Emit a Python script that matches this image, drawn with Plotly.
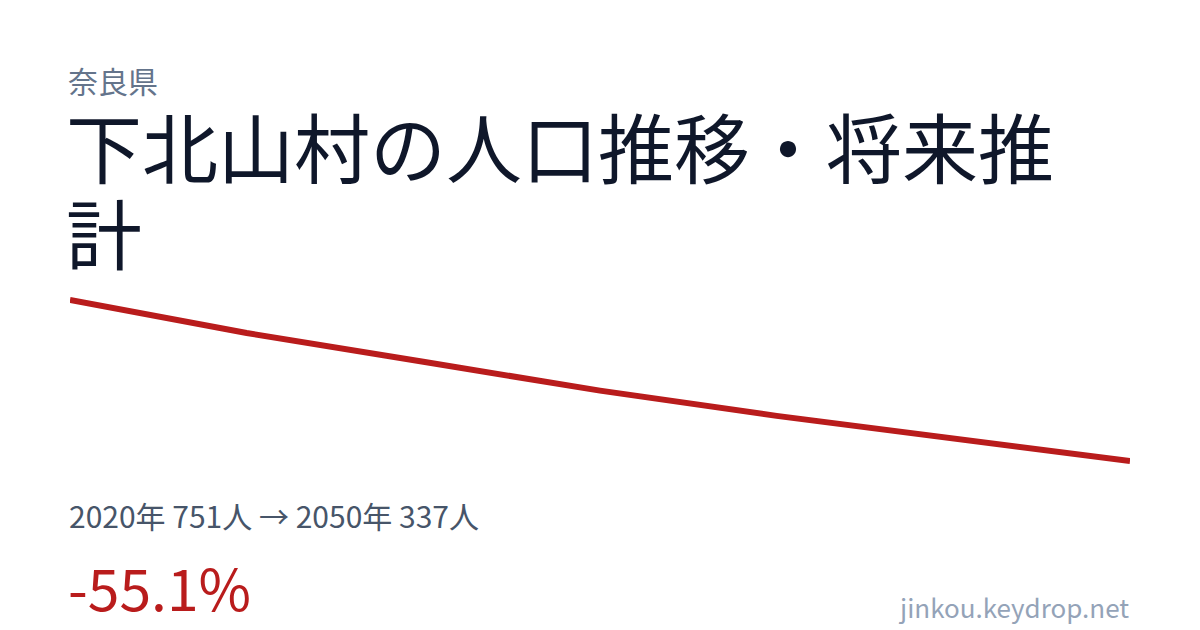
import plotly.graph_objects as go

years = [2020, 2025, 2030, 2035, 2040, 2045, 2050]
population = [751, 666, 592, 518, 453, 396, 337]

prefecture = "奈良県"
title_line1 = "下北山村の人口推移・将来推"
title_line2 = "計"
summary = "2020年 751人 → 2050年 337人"
change = "-55.1%"
site = "jinkou.keydrop.net"

W, H = 1200, 630
L, R, T, B = 70, 70, 290, 159
FONT = "Noto Sans CJK JP"

# y range padded so that 751 sits at y=300px and 337 at y=461px
span_px = 461 - 300
per_px = (max(population) - min(population)) / span_px
pad = 10 * per_px
yr = [min(population) - pad, max(population) + pad]

fig = go.Figure()
fig.add_trace(go.Scatter(
    x=years, y=population, mode="lines",
    line=dict(color="#b91c1c", width=6),
    hoverinfo="skip",
))

def px_x(px):
    return (px - L) / (W - L - R)

def px_y(py):
    return (H - B - py) / (H - T - B)

def ann(text, x, y, size, color, xanchor="left"):
    fig.add_annotation(
        text=text, xref="paper", yref="paper",
        x=px_x(x), y=px_y(y), xanchor=xanchor, yanchor="middle",
        showarrow=False, font=dict(family=FONT, size=size, color=color),
    )

ann(prefecture, 66, 80, 30, "#64748b")
ann(title_line1, 64, 145, 76, "#0f172a")
ann(title_line2, 64, 231, 76, "#0f172a")
ann(summary, 67, 515, 30, "#475569")
ann(change, 66, 586, 57, "#b91c1c")
ann(site, 1131, 606, 26, "#94a3b8", xanchor="right")

fig.update_layout(
    width=W, height=H,
    margin=dict(l=L, r=R, t=T, b=B),
    paper_bgcolor="white", plot_bgcolor="white",
    showlegend=False,
    xaxis=dict(range=[years[0], years[-1]], visible=False, fixedrange=True),
    yaxis=dict(range=yr, visible=False, fixedrange=True),
)

fig.write_html(
    "out.html",
    config={"displayModeBar": False},
    post_script="document.body.style.margin='0';document.body.style.overflow='hidden';",
)
